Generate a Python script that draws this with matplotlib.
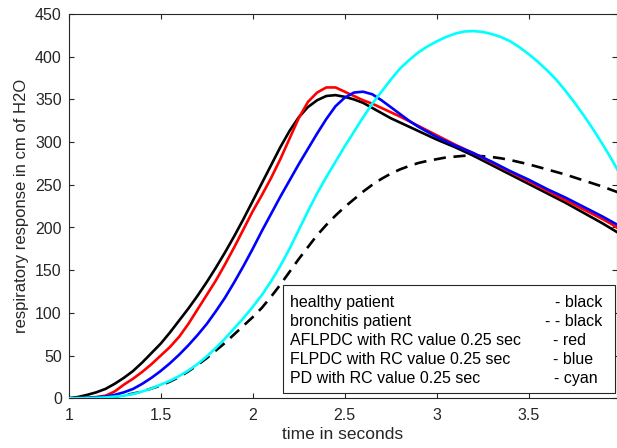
import matplotlib
matplotlib.use("Agg")
import matplotlib.pyplot as plt
import numpy as np
from matplotlib.patches import Rectangle

plt.rcParams['font.family'] = ['Liberation Sans', 'DejaVu Sans']

# ---- data ----
# time samples: 1.00, 1.05, ..., 4.00
t = np.round(np.arange(1.0, 4.0001, 0.05), 2)

healthy = [0, 1.5, 4, 7, 11, 17, 24, 32, 42, 53,
           64, 77, 91, 105, 120, 136, 153, 171, 190, 210,
           231, 252, 273, 294, 313, 329, 341, 349, 354, 355,
           353, 350, 346, 340, 334, 328, 323, 318, 313, 308,
           303, 298.5, 294, 289, 284, 278.5, 273, 267.5, 262, 256.5,
           251, 245.5, 240, 234.5, 229, 223, 217, 211, 205, 198.5,
           192]

bronchitis = [0, 0.1, 0.2, 0.5, 1, 2, 3.5, 5.5, 8, 11.5,
              15, 19.5, 25, 31.5, 39, 47, 56, 65, 75, 85,
              95, 106, 119, 133, 148, 163, 177, 191, 203, 214,
              224, 233, 242, 250, 257, 263, 268, 272, 275.5, 278,
              280, 282, 283, 284, 284, 283.5, 282.5, 281, 279, 276.5,
              274, 271, 268, 265, 262, 258.5, 255, 251.5, 248, 244,
              240]

aflpdc = [0, 0.2, 0.5, 1.5, 3, 8, 16, 23, 31, 40,
          50, 60, 72, 87, 104, 121, 138, 157, 177, 198,
          219, 238, 258, 280, 304, 328, 347, 358, 364, 364,
          359, 354, 349, 345, 340, 335, 330, 324.5, 319, 313.5,
          308, 302.5, 297, 292, 287, 281.5, 276, 270.5, 265, 259.5,
          254, 248.5, 243, 237.5, 232, 226.5, 221, 215.5, 210, 204,
          197]

flpdc = [0, 0.1, 0.3, 1, 2, 4, 7, 11, 17, 24,
         32, 41, 51, 62, 74, 87, 102, 118, 136, 155,
         175, 196, 216, 236, 255, 274, 292, 310, 327, 342,
         352, 358, 359, 356, 349, 341, 333, 325, 318, 312,
         306, 301, 296, 291.5, 287, 282, 277, 271.5, 266, 261,
         256, 250.5, 245, 240, 235, 229.5, 224, 218.5, 213, 207,
         201]

pd_curve = [0, 0.1, 0.2, 0.5, 1, 2, 3, 5, 8, 11.5,
            16, 20.5, 26, 32.5, 40, 49, 59, 70, 82, 94,
            107, 121, 137, 155, 175, 197, 219, 240, 259, 277,
            295, 312, 329, 345, 359, 373, 386, 396, 405, 412,
            418, 423, 427, 429.5, 430, 429, 426.5, 423, 418, 411,
            403, 394, 384, 373, 360, 346, 331, 315, 298, 280,
            261]

legend_left = ["healthy patient", "bronchitis patient",
               "AFLPDC with RC value 0.25 sec", "FLPDC with RC value 0.25 sec",
               "PD with RC value 0.25 sec"]
legend_right = ["- black", "- - black", "- red", "- blue", "- cyan"]

xticks = [1, 1.5, 2, 2.5, 3, 3.5]
xticklabels = ["1", "1.5", "2", "2.5", "3", "3.5"]
yticks = [0, 50, 100, 150, 200, 250, 300, 350, 400, 450]

# ---- figure ----
W, H = 617, 448
fig = plt.figure(figsize=(W / 100, H / 100), dpi=100)
ax_l, ax_r, ax_t, ax_b = 68.7, 616.7, 14.0, 398.3
ax = fig.add_axes([ax_l / W, (H - ax_b) / H, (ax_r - ax_l) / W, (ax_b - ax_t) / H])

lw = 1.9
ax.plot(t, healthy, color='black', lw=lw, zorder=3)
ln, = ax.plot(t, bronchitis, color='black', lw=lw, zorder=3)
ln.set_dashes([4.6, 2.9])
ax.plot(t, aflpdc, color='#ff0000', lw=lw, zorder=3)
ax.plot(t, flpdc, color='#0000ff', lw=lw, zorder=3)
ax.plot(t, pd_curve, color='#00ffff', lw=lw, zorder=3)

xmax = 1 + (ax_r - ax_l) / 184.0
ax.set_xlim(1, xmax)
ax.set_ylim(0, 450)
ax.set_xticks(xticks)
ax.set_xticklabels(xticklabels)
ax.set_yticks(yticks)

dark = '#262626'
for s in ax.spines.values():
    s.set_linewidth(0.8)
    s.set_color(dark)
ax.tick_params(direction='in', length=3.8, width=0.8, colors=dark,
               top=True, right=True, labelsize=11.5)
ax.tick_params(axis='x', pad=7)
ax.tick_params(axis='y', pad=5)

# the "4" tick label, cut by the right edge of the picture as in the reference
ax.text(4.0, -0.028, "4", transform=ax.get_xaxis_transform(), ha='center', va='top',
        fontsize=11.5, color=dark, clip_on=False)

ax.set_xlabel("time in seconds", fontsize=12.5, color=dark, labelpad=3)
ax.set_ylabel("respiratory response in cm of H2O", fontsize=12, color=dark, labelpad=4)

# ---- legend-like text box ----
def fx(px):
    return (px - ax_l) / (ax_r - ax_l)

def fy(py):
    return (ax_b - py) / (ax_b - ax_t)

box = Rectangle((fx(283.3), fy(393.3)), fx(615) - fx(283.3), fy(285) - fy(393.3),
                transform=ax.transAxes, facecolor='white', edgecolor=dark,
                lw=0.8, zorder=5, clip_on=False)
ax.add_patch(box)
baselines = [306.7, 325.7, 345.0, 364.0, 382.7]
right_x = [555, 545, 553, 553, 554]
for lt, rt, b, rx in zip(legend_left, legend_right, baselines, right_x):
    ax.text(fx(290), fy(b), lt, transform=ax.transAxes, fontsize=11.5,
            va='baseline', ha='left', color='black', zorder=6)
    ax.text(fx(rx), fy(b), rt, transform=ax.transAxes, fontsize=11.5,
            va='baseline', ha='left', color='black', zorder=6)

fig.savefig("out.png", dpi=100)
